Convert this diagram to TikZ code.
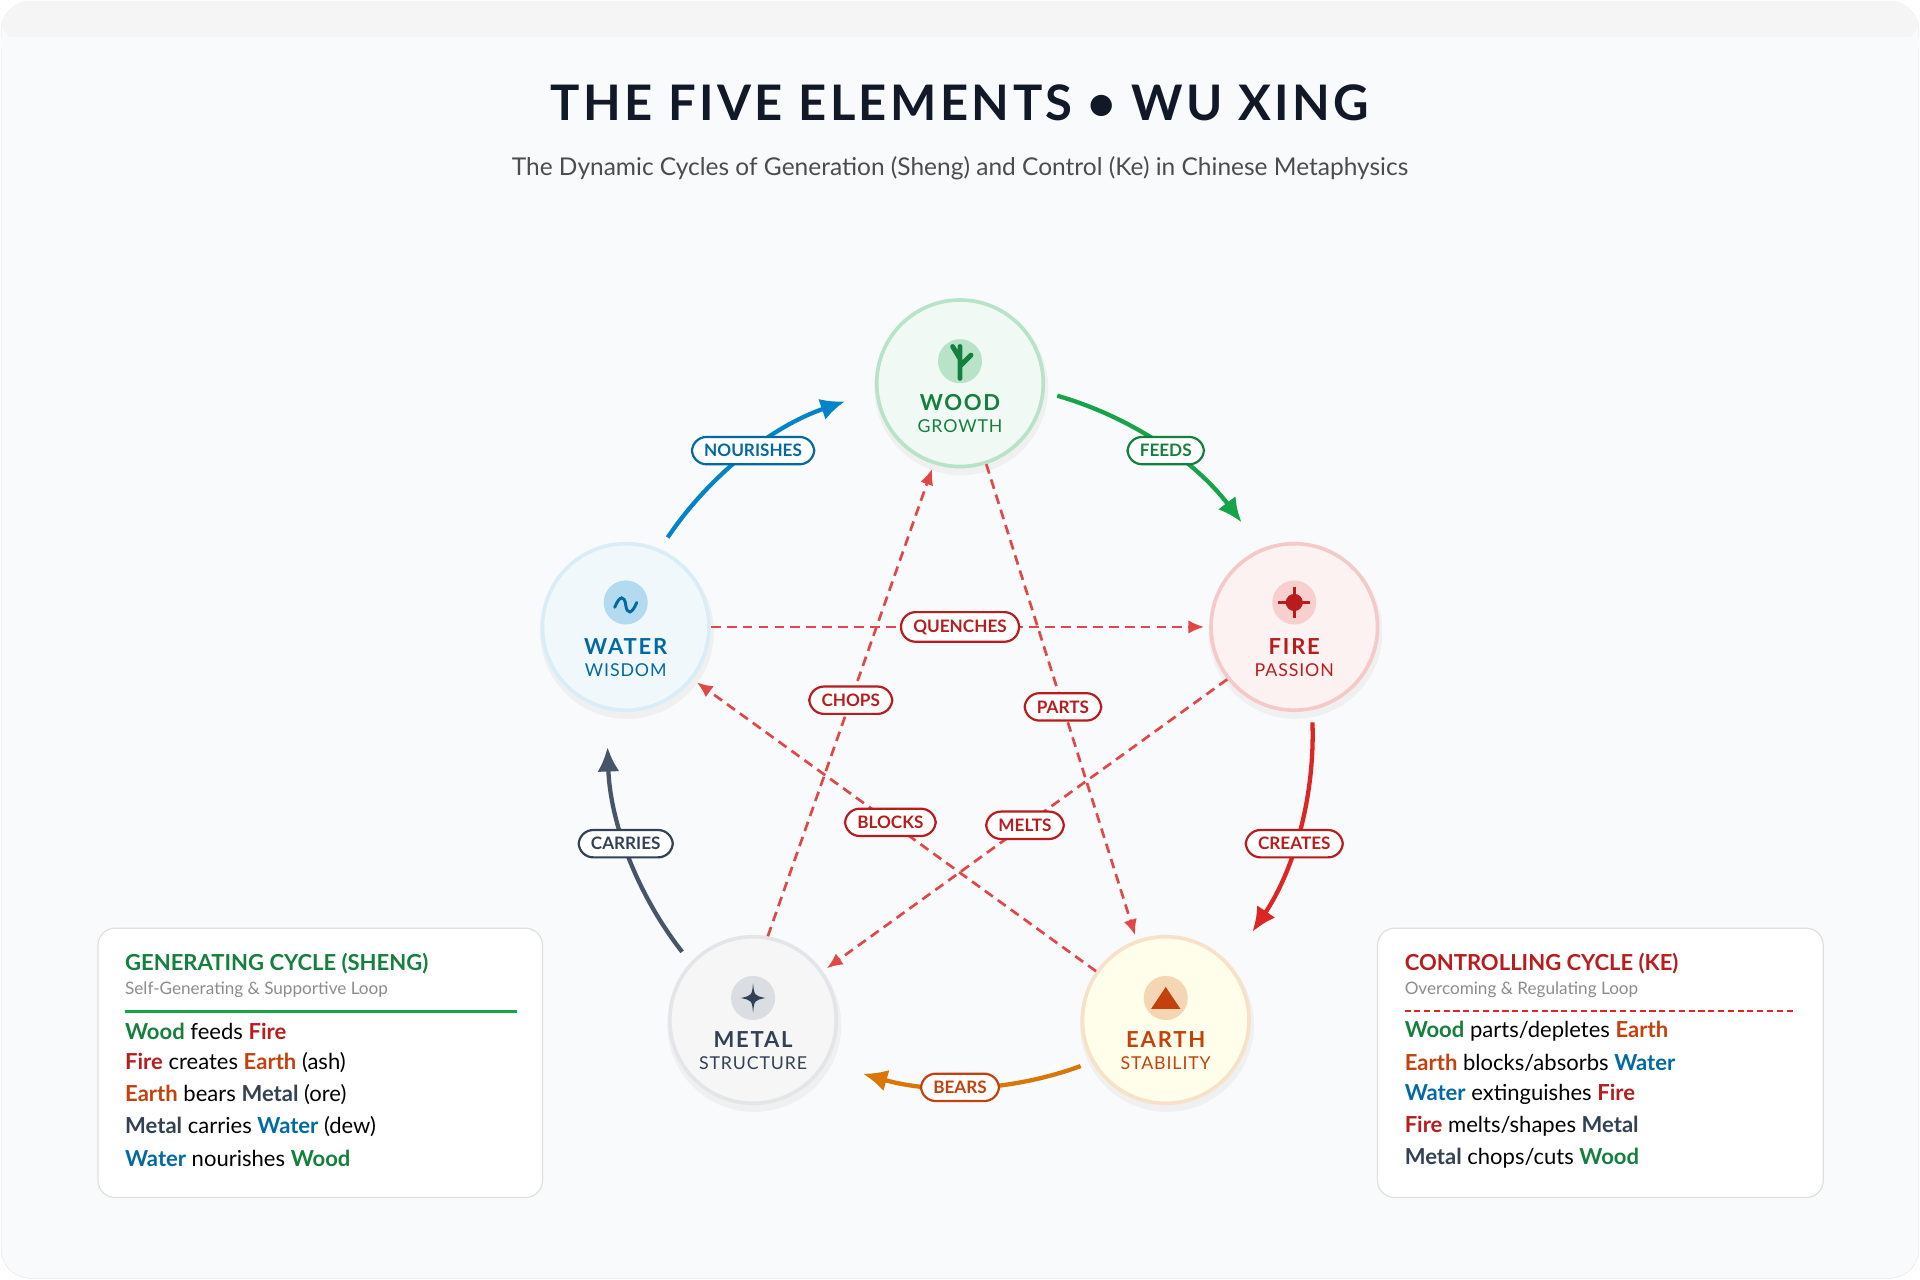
\documentclass[tikz,border=0pt]{standalone}
\usepackage{fontspec}
\setmainfont{Lato}
\usetikzlibrary{positioning,arrows.meta}
\definecolor{woodc}{HTML}{16A34A}\definecolor{woodt}{HTML}{15803D}
\definecolor{firec}{HTML}{DC2626}\definecolor{firet}{HTML}{B91C1C}
\definecolor{earthc}{HTML}{D97706}\definecolor{eartht}{HTML}{C2410C}
\definecolor{waterc}{HTML}{0284C7}\definecolor{watert}{HTML}{0369A1}
\definecolor{metalc}{HTML}{475569}\definecolor{metalt}{HTML}{334155}
\definecolor{bgc}{HTML}{F8FAFC}\definecolor{titlec}{HTML}{111827}
\tikzset{
  elem/.style={circle,minimum size=136pt,line width=3pt,inner sep=0pt},
  pill/.style={rounded corners=12pt,draw=#1,fill=white,line width=1.8pt,text=#1,solid,
    font=\fontsize{14}{14}\selectfont\bfseries,inner xsep=10pt,inner ysep=6pt},
  gen/.style={line width=3.5pt,color=#1,-{Latex[length=20pt,width=18pt]}},
  ctrl/.style={line width=2.2pt,color=firec!85,dash pattern=on 8pt off 5pt,
    -{Latex[length=13pt,width=11pt]},shorten >=4pt},
  legend/.style={rounded corners=14pt,fill=white,draw=black!12,line width=1pt},
  item/.style={anchor=west,font=\fontsize{18}{18}\selectfont,inner sep=0pt},
}
\newcommand{\elname}[4]{% node, colour, name, sub
  \node[text=#2,font=\fontsize{18}{18}\selectfont\bfseries] at ([yshift=-16pt]#1.center) {\addfontfeatures{LetterSpace=8}#3};
  \node[text=#2,font=\fontsize{14.5}{15}\selectfont] at ([yshift=-35pt]#1.center) {\addfontfeatures{LetterSpace=5}#4};}
\begin{document}
\begin{tikzpicture}[x=1pt,y=-1pt]
\useasboundingbox (0,0) rectangle (1568,1045);
\fill[bgc,draw=black!10,rounded corners=24pt] (1,1) rectangle (1567,1044);
\fill[black!4,rounded corners=24pt] (1,1) rectangle (1567,38);
\fill[bgc] (1,30) rectangle (1567,40);
% title
\node[font=\fontsize{40}{40}\selectfont\bfseries,text=titlec] (title) at (784,84) {\addfontfeatures{LetterSpace=7}THE FIVE ELEMENTS • WU XING};
\node[font=\fontsize{20}{20}\selectfont,text=black!70] (subtitle) at (784,137) {The Dynamic Cycles of Generation (Sheng) and Control (Ke) in Chinese Metaphysics};
% elements
\foreach \n/\x/\y/\c in {wood/784/313/woodc,fire/1057/512/firec,earth/952/833/earthc,metal/615/833/metalc,water/511/512/waterc}
  \fill[black!6] (\x+1,\y+4) circle (71);
\node[elem,draw=woodc!30,fill=woodc!6] (wood) at (784,313) {};
\node[elem,draw=firec!25,fill=firec!6] (fire) at (1057,512) {};
\node[elem,draw=earthc!22,fill=yellow!8] (earth) at (952,833) {};
\node[elem,draw=metalc!15,fill=metalc!5] (metal) at (615,833) {};
\node[elem,draw=waterc!15,fill=waterc!6] (water) at (511,512) {};
% icons
\fill[woodc!30] ([yshift=18pt]wood.center) circle (18);
\draw[woodt,line width=4pt,line cap=round] (784,283) -- (784,309) (784,299) -- (793,290) (784,293) -- (778,283);
\fill[firec!22] ([yshift=20pt]fire.center) circle (18);
\fill[firet] (1057,492) circle (7);
\draw[firet,line width=2pt] (1057,479) -- (1057,505) (1044,492) -- (1070,492);
\fill[earthc!30] ([yshift=18pt]earth.center) circle (18);
\fill[eartht] (940,824) -- (952,806) -- (964,824) -- cycle;
\fill[metalc!20] ([yshift=18pt]metal.center) circle (18);
\fill[metalt] (615,803) .. controls (616,813) .. (625,815) .. controls (616,817) .. (615,827) .. controls (614,817) .. (605,815) .. controls (614,813) .. cycle;
\fill[waterc!30] ([yshift=20pt]water.center) circle (18);
\draw[watert,line width=2.4pt,line cap=round] (502,496) .. controls (506,486) and (510,486) .. (511,494) .. controls (512,502) and (516,502) .. (520,492);
\elname{wood}{woodt}{WOOD}{GROWTH}
\elname{fire}{firet}{FIRE}{PASSION}
\elname{earth}{eartht}{EARTH}{STABILITY}
\elname{metal}{metalt}{METAL}{STRUCTURE}
\elname{water}{watert}{WATER}{WISDOM}
% generating cycle
\coordinate (O) at (784,600);
\draw[gen=waterc] (O) ++(-146:288) arc[start angle=-146,end angle=-109,radius=288];
\draw[gen=woodc] (O) ++(-74:288) arc[start angle=-74,end angle=-37,radius=288];
\draw[gen=firec] (O) ++(-2:288) arc[start angle=-2,end angle=34,radius=288];
\draw[gen=earthc] (O) ++(70:288) arc[start angle=70,end angle=106,radius=288];
\draw[gen=metalc] (O) ++(142:288) arc[start angle=142,end angle=178,radius=288];
\node[pill=watert] (nourishes) at (615,368) {NOURISHES};
\node[pill=woodt] (feeds) at (952,368) {FEEDS};
\node[pill=firet] (creates) at (1057,689) {CREATES};
\node[pill=eartht] (bears) at (784,888) {BEARS};
\node[pill=metalt] (carries) at (511,689) {CARRIES};
% controlling cycle
\draw[ctrl] (wood.-72) -- (earth.110) node[pill=firet,pos=0.51] (parts) {PARTS};
\draw[ctrl] (earth.145) -- (water.-38) node[pill=firet,pos=0.51] (blocks) {BLOCKS};
\draw[ctrl] (water.east) -- (fire.west) node[pill=firet,pos=0.5] (quenches) {QUENCHES};
\draw[ctrl] (fire.218) -- (metal.35) node[pill=firet,pos=0.5] (melts) {MELTS};
\draw[ctrl] (metal.80) -- (wood.-108) node[pill=firet,pos=0.5] (chops) {CHOPS};
% legends
\draw[legend] (80,758) rectangle (443,978);
\node[anchor=west,text=woodt,font=\fontsize{18}{18}\selectfont\bfseries,inner sep=0pt] (gtitle) at (102,787) {GENERATING CYCLE (SHENG)};
\node[anchor=west,text=black!45,font=\fontsize{14}{14}\selectfont,inner sep=0pt] (gsub) at (102,808) {Self-Generating \& Supportive Loop};
\draw[woodc,line width=2pt] (102,826) -- (422,826);
\node[item] at (102,842) {\textcolor{woodt}{\bfseries Wood} feeds \textcolor{firet}{\bfseries Fire}};
\node[item] at (102,868) {\textcolor{firet}{\bfseries Fire} creates \textcolor{eartht}{\bfseries Earth} (ash)};
\node[item] at (102,894) {\textcolor{eartht}{\bfseries Earth} bears \textcolor{metalt}{\bfseries Metal} (ore)};
\node[item] at (102,920) {\textcolor{metalt}{\bfseries Metal} carries \textcolor{watert}{\bfseries Water} (dew)};
\node[item] at (102,946) {\textcolor{watert}{\bfseries Water} nourishes \textcolor{woodt}{\bfseries Wood}};
\draw[legend] (1125,758) rectangle (1489,978);
\node[anchor=west,text=firet,font=\fontsize{18}{18}\selectfont\bfseries,inner sep=0pt] (ctitle) at (1147,787) {CONTROLLING CYCLE (KE)};
\node[anchor=west,text=black!45,font=\fontsize{14}{14}\selectfont,inner sep=0pt] (csub) at (1147,808) {Overcoming \& Regulating Loop};
\draw[firec,line width=1.6pt,dash pattern=on 5pt off 3pt] (1147,826) -- (1467,826);
\node[item] at (1147,842) {\textcolor{woodt}{\bfseries Wood} parts/depletes \textcolor{eartht}{\bfseries Earth}};
\node[item] at (1147,868) {\textcolor{eartht}{\bfseries Earth} blocks/absorbs \textcolor{watert}{\bfseries Water}};
\node[item] at (1147,894) {\textcolor{watert}{\bfseries Water} extinguishes \textcolor{firet}{\bfseries Fire}};
\node[item] at (1147,920) {\textcolor{firet}{\bfseries Fire} melts/shapes \textcolor{metalt}{\bfseries Metal}};
\node[item] at (1147,946) {\textcolor{metalt}{\bfseries Metal} chops/cuts \textcolor{woodt}{\bfseries Wood}};
\end{tikzpicture}
\end{document}
